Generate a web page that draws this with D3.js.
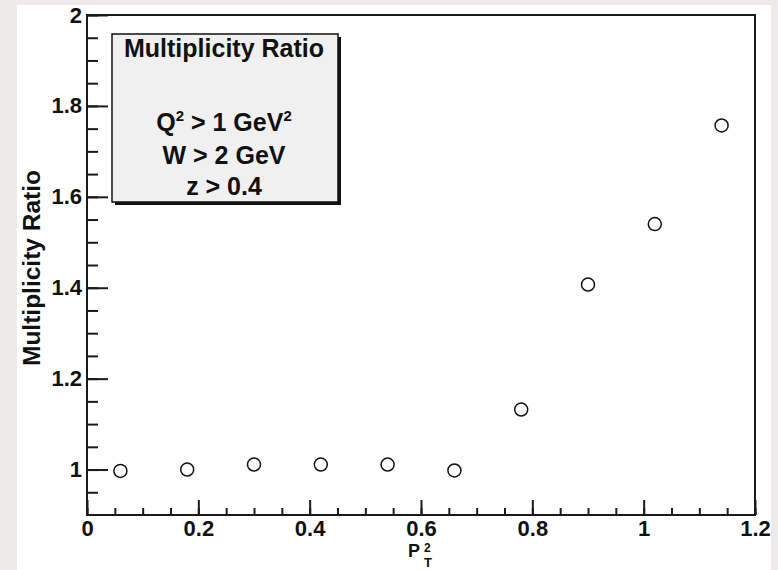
<!DOCTYPE html>
<html>
<head>
<meta charset="utf-8">
<script src="https://cdn.jsdelivr.net/npm/d3@7"></script>
<style>
  body { margin: 0; background: #efeaea; }
  svg { display: block; }
  text { font-family: "Liberation Sans", Arial, Helvetica, sans-serif; font-weight: bold; fill: #111; }
</style>
</head>
<body>
<svg id="chart" width="778" height="570"></svg>
<script>
// data
const ptSquared = [0.06, 0.18, 0.30, 0.42, 0.54, 0.66, 0.78, 0.90, 1.02, 1.14];
const ratio = [0.997, 1.000, 1.011, 1.011, 1.011, 0.998, 1.132, 1.407, 1.540, 1.757];

const xMajorTicks = [0, 0.2, 0.4, 0.6, 0.8, 1, 1.2];
const yMajorTicks = [1, 1.2, 1.4, 1.6, 1.8, 2];
const legendLines = ["W > 2 GeV", "z > 0.4"];

const svg = d3.select("#chart");

// white canvas
svg.append("rect")
    .attr("x", 17).attr("y", 5)
    .attr("width", 754).attr("height", 565)
    .attr("fill", "#fff");

const plotLeft = 87, plotRight = 755, plotTop = 15, plotBottom = 515;

const x = d3.scaleLinear().domain([0, 1.2]).range([plotLeft, plotRight]);
const y = d3.scaleLinear().domain([0.9, 2.0]).range([plotBottom, plotTop]);

const fmt = d => d3.format("~g")(d);

// minor ticks every 0.05
const xMinor = d3.range(0, 1.2001, 0.05).map(v => +v.toFixed(2));
const yMinor = d3.range(0.95, 2.0001, 0.05).map(v => +v.toFixed(2));

// x axis: ticks point up into the plot
const xAxisMinor = svg.append("g")
    .attr("transform", `translate(0,${plotBottom})`)
    .call(d3.axisBottom(x).tickValues(xMinor).tickSize(-7).tickFormat(""));
const xAxis = svg.append("g")
    .attr("transform", `translate(0,${plotBottom})`)
    .call(d3.axisBottom(x).tickValues(xMajorTicks).tickSize(-15).tickPadding(5).tickFormat(fmt));

// y axis: ticks point right into the plot
const yAxisMinor = svg.append("g")
    .attr("transform", `translate(${plotLeft},0)`)
    .call(d3.axisLeft(y).tickValues(yMinor).tickSize(-11).tickFormat(""));
const yAxis = svg.append("g")
    .attr("transform", `translate(${plotLeft},0)`)
    .call(d3.axisLeft(y).tickValues(yMajorTicks).tickSize(-21).tickPadding(6).tickFormat(fmt));

[xAxisMinor, xAxis, yAxisMinor, yAxis].forEach(g => {
    g.select(".domain").remove();
    g.selectAll(".tick line").attr("stroke", "#1a1a1a").attr("stroke-width", 2);
});
[xAxis, yAxis].forEach(g => {
    g.selectAll(".tick text")
        .attr("font-size", 22)
        .attr("fill", "#111")
        .attr("font-family", "Liberation Sans, Arial, sans-serif");
});
yAxis.selectAll(".tick text").attr("x", -5);

// frame
svg.append("rect")
    .attr("x", plotLeft).attr("y", plotTop)
    .attr("width", plotRight - plotLeft).attr("height", plotBottom - plotTop)
    .attr("fill", "none")
    .attr("stroke", "#1a1a1a")
    .attr("stroke-width", 2);

// legend box with shadow
const box = { x: 112, y: 34, w: 226, h: 168 };
svg.append("rect")
    .attr("x", box.x + 3).attr("y", box.y + 3)
    .attr("width", box.w).attr("height", box.h)
    .attr("fill", "#111");
svg.append("rect")
    .attr("x", box.x).attr("y", box.y)
    .attr("width", box.w).attr("height", box.h)
    .attr("fill", "#f0f0f0")
    .attr("stroke", "#111")
    .attr("stroke-width", 1.5);

const cx = box.x + box.w / 2 - 1;
svg.append("text")
    .attr("x", cx).attr("y", 57)
    .attr("text-anchor", "middle")
    .attr("font-size", 25)
    .text("Multiplicity Ratio");

// Q^2 line with superscripts
const q = svg.append("text")
    .attr("x", cx).attr("y", 131)
    .attr("text-anchor", "middle")
    .attr("font-size", 25);
q.append("tspan").text("Q");
q.append("tspan").attr("dy", -10).attr("font-size", 15).text("2");
q.append("tspan").attr("dy", 10).text(" > 1 GeV");
q.append("tspan").attr("dy", -10).attr("font-size", 15).text("2");

svg.selectAll(".legend-line")
    .data(legendLines)
    .join("text")
    .attr("class", "legend-line")
    .attr("x", cx)
    .attr("y", (d, i) => 164 + i * 31)
    .attr("text-anchor", "middle")
    .attr("font-size", 25)
    .text(d => d);

// axis titles
svg.append("text")
    .attr("transform", "translate(40,268) rotate(-90)")
    .attr("text-anchor", "middle")
    .attr("font-size", 24.5)
    .text("Multiplicity Ratio");

// P_T^2 : P with stacked superscript 2 and subscript T
svg.append("text")
    .attr("x", 408).attr("y", 557)
    .attr("font-size", 18)
    .text("P");
svg.append("text")
    .attr("x", 424).attr("y", 552)
    .attr("font-size", 12)
    .text("2");
svg.append("text")
    .attr("x", 424).attr("y", 567)
    .attr("font-size", 13)
    .text("T");

// data points
svg.append("g")
    .selectAll("circle")
    .data(ptSquared.map((p, i) => ({ p, r: ratio[i] })))
    .join("circle")
    .attr("cx", d => x(d.p))
    .attr("cy", d => y(d.r))
    .attr("r", 6.5)
    .attr("fill", "none")
    .attr("stroke", "#111")
    .attr("stroke-width", 1.5);
</script>
</body>
</html>
